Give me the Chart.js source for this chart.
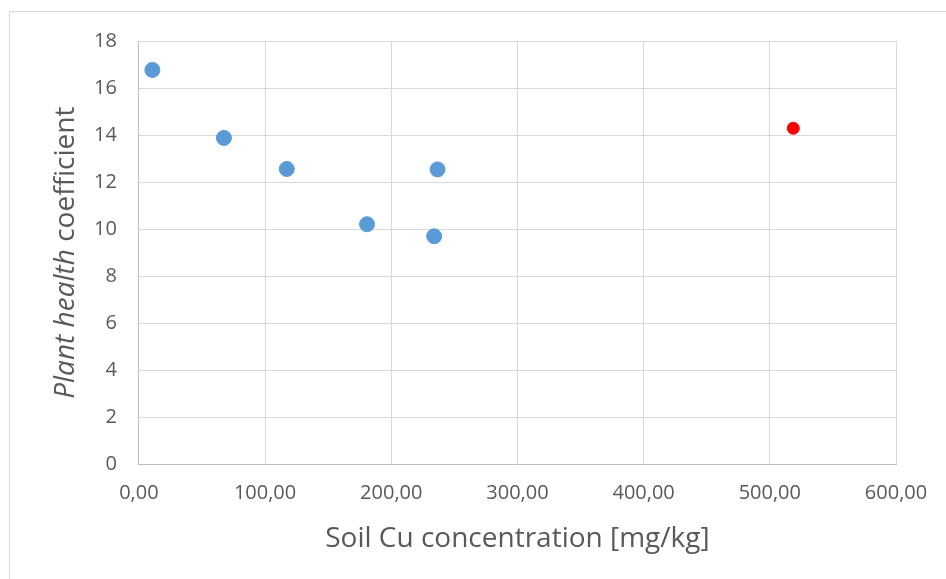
<!DOCTYPE html>
<html>
<head>
<meta charset="utf-8">
<script src="https://cdn.jsdelivr.net/npm/chart.js@4"></script>
<style>
  html, body { margin: 0; padding: 0; background: #fff; }
  #wrap { position: relative; width: 946px; height: 579px; }
</style>
</head>
<body>
<div id="wrap"><canvas id="Scatter"></canvas></div>
<script>
// soil Cu concentration [mg/kg] vs plant health coefficient
const cu_values = [10.7, 67.4, 117.2, 180.8, 234.0, 236.7];
const health_values = [16.77, 13.88, 12.56, 10.21, 9.70, 12.54];
const outlier_cu = [518.6];
const outlier_health = [14.29];

const x_ticks = [0, 100, 200, 300, 400, 500, 600];
const y_ticks = [0, 2, 4, 6, 8, 10, 12, 14, 16, 18];

const text_color = '#595959';
const font_name = "'Open Sans', 'Noto Sans', sans-serif";

const toPoints = (xs, ys) => xs.map((x, i) => ({x: x, y: ys[i]}));

// outer frame of the chart object
const framePlugin = {
    id: 'frame',
    beforeDraw(chart) {
        const ctx = chart.ctx;
        ctx.save();
        ctx.fillStyle = '#ffffff';
        ctx.fillRect(0, 0, chart.width, chart.height);
        ctx.strokeStyle = '#d9d9d9';
        ctx.lineWidth = 1;
        ctx.strokeRect(9.5, 11.5, chart.width + 20, chart.height + 20);
        ctx.restore();
    }
};

// y title with italic "Plant health" and upright "coefficient"
const yTitlePlugin = {
    id: 'yTitle',
    afterDraw(chart) {
        const ctx = chart.ctx;
        const area = chart.chartArea;
        const parts = [
            {text: 'Plant health', font: 'italic 28px ' + font_name},
            {text: ' coefficient', font: '28px ' + font_name}
        ];
        let total = 0;
        parts.forEach(p => { ctx.font = p.font; p.w = ctx.measureText(p.text).width; total += p.w; });
        ctx.save();
        ctx.translate(66, (area.top + area.bottom) / 2);
        ctx.rotate(-Math.PI / 2);
        ctx.fillStyle = text_color;
        ctx.textBaseline = 'middle';
        let x = -total / 2;
        parts.forEach(p => {
            ctx.font = p.font;
            ctx.fillText(p.text, x, 0);
            x += p.w;
        });
        ctx.restore();
    }
};

new Chart(
    document.getElementById('Scatter'),
    {
        type: 'scatter',
        data: {
            datasets: [
                {
                    label: 'samples',
                    data: toPoints(cu_values, health_values),
                    backgroundColor: '#5b9bd5',
                    borderColor: '#5b9bd5',
                    pointRadius: 7.5,
                    pointHoverRadius: 7.5,
                },
                {
                    label: 'outlier',
                    data: toPoints(outlier_cu, outlier_health),
                    backgroundColor: '#ff0000',
                    borderColor: '#ff0000',
                    pointRadius: 6,
                    pointHoverRadius: 6,
                }
            ]
        },
        options: {
            responsive: true,
            maintainAspectRatio: false,
            animation: false,
            layout: {
                padding: {left: 72, right: 50, top: 41, bottom: 23}
            },
            scales: {
                x: {
                    type: 'linear',
                    min: x_ticks[0],
                    max: x_ticks[x_ticks.length - 1],
                    afterBuildTicks: axis => { axis.ticks = x_ticks.map(v => ({value: v})); },
                    grid: {color: '#d9d9d9', drawTicks: false},
                    border: {color: '#bfbfbf'},
                    ticks: {
                        color: text_color,
                        font: {family: font_name, size: 20},
                        padding: 17,
                        maxRotation: 0,
                        callback: v => v.toFixed(2).replace('.', ',')
                    },
                    title: {
                        display: true,
                        text: 'Soil Cu concentration [mg/kg]',
                        color: text_color,
                        font: {family: font_name, size: 28},
                        padding: {top: 0, bottom: 0}
                    }
                },
                y: {
                    min: y_ticks[0],
                    max: y_ticks[y_ticks.length - 1],
                    afterBuildTicks: axis => { axis.ticks = y_ticks.map(v => ({value: v})); },
                    grid: {color: '#d9d9d9', drawTicks: false},
                    border: {color: '#bfbfbf'},
                    ticks: {
                        color: text_color,
                        font: {family: font_name, size: 20},
                        padding: 22
                    }
                }
            },
            plugins: {
                legend: {display: false},
                tooltip: {enabled: false}
            }
        },
        plugins: [framePlugin, yTitlePlugin]
    }
)
</script>
</body>
</html>
